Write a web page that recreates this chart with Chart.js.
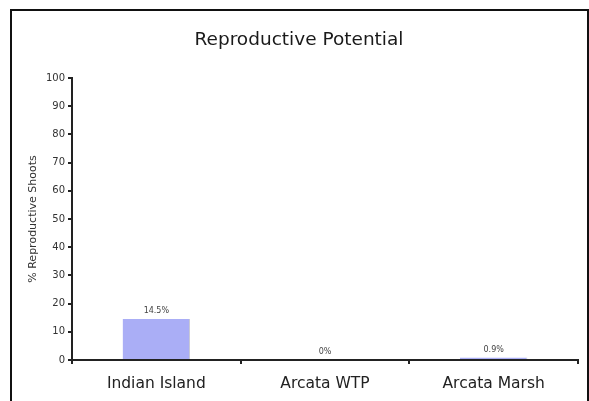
<!DOCTYPE html>
<html>
<head>
<meta charset="utf-8">
<script src="https://cdn.jsdelivr.net/npm/chart.js@4/dist/chart.umd.min.js"></script>
<style>
    html, body { margin: 0; padding: 0; background: #fff; }
    #wrap { position: relative; width: 589px; height: 401px; overflow: hidden; }
    #frame {
        position: absolute; left: 10px; top: 9px; width: 579px; height: 420px;
        border: 2px solid #111; box-sizing: border-box;
    }
    #chart { position: absolute; left: 0; top: 0; }
</style>
</head>
<body>
<div id="wrap">
    <div id="frame"></div>
    <canvas id="chart" width="589" height="401"></canvas>
</div>
<script>
const sites = ['Indian Island', 'Arcata WTP', 'Arcata Marsh'];
const reproductivePct = [14.5, 0, 0.9];
const valueLabels = ['14.5%', '0%', '0.9%'];
const yTicks = [0, 10, 20, 30, 40, 50, 60, 70, 80, 90, 100];

// draws the small % labels above each bar
const valueLabelPlugin = {
    id: 'valueLabels',
    afterDatasetsDraw(chart) {
        const ctx = chart.ctx;
        const meta = chart.getDatasetMeta(0);
        ctx.save();
        ctx.font = '8px "DejaVu Sans"';
        ctx.fillStyle = '#444';
        ctx.textAlign = 'center';
        ctx.textBaseline = 'bottom';
        meta.data.forEach((bar, i) => {
            ctx.fillText(valueLabels[i], bar.x, bar.y - 4);
        });
        ctx.restore();
    }
};

// rotated y axis title
const yTitlePlugin = {
    id: 'yTitle',
    afterDraw(chart) {
        const ctx = chart.ctx;
        const area = chart.chartArea;
        ctx.save();
        ctx.translate(33, (area.top + area.bottom) / 2);
        ctx.rotate(-Math.PI / 2);
        ctx.font = '11px "DejaVu Sans"';
        ctx.fillStyle = '#333';
        ctx.textAlign = 'center';
        ctx.textBaseline = 'middle';
        ctx.fillText('% Reproductive Shoots', 0, 0);
        ctx.restore();
    }
};

const ctx = document.getElementById('chart').getContext('2d');
const chart = new Chart(ctx, {
    type: 'bar',
    data: {
        labels: sites,
        datasets: [{
            data: reproductivePct,
            backgroundColor: '#aaaef6',
            borderColor: '#c8c8d0',
            borderWidth: { right: 1, top: 0, left: 0, bottom: 0 },
            borderSkipped: false,
            barPercentage: 0.8,
            categoryPercentage: 0.5
        }]
    },
    options: {
        responsive: false,
        animation: false,
        layout: {
            padding: { left: 20, right: 11, top: 10, bottom: 0 }
        },
        plugins: {
            legend: { display: false },
            tooltip: { enabled: false },
            title: {
                display: true,
                text: 'Reproductive Potential',
                color: '#1a1a1a',
                font: { family: 'DejaVu Sans', size: 18.5, weight: 'normal' },
                padding: { top: 19, bottom: 26.8 }
            }
        },
        scales: {
            x: {
                offset: true,
                afterFit: s => { s.height = 41; },
                border: { display: true, color: '#222', width: 2 },
                grid: {
                    offset: true,
                    drawOnChartArea: false,
                    drawTicks: true,
                    tickLength: 4,
                    color: '#222',
                    lineWidth: 2
                },
                ticks: {
                    color: '#222',
                    padding: 11,
                    font: { family: 'DejaVu Sans', size: 15.5 }
                }
            },
            y: {
                min: 0,
                max: 100,
                afterFit: s => { s.width = 52; },
                afterBuildTicks: s => { s.ticks = yTicks.map(v => ({ value: v })); },
                border: { display: true, color: '#222', width: 2 },
                grid: {
                    drawOnChartArea: false,
                    drawTicks: true,
                    tickLength: 4,
                    color: '#222',
                    lineWidth: 2
                },
                ticks: {
                    color: '#333',
                    padding: 3,
                    font: { family: 'DejaVu Sans', size: 10 }
                }
            }
        }
    },
    plugins: [valueLabelPlugin, yTitlePlugin]
});
</script>
</body>
</html>
